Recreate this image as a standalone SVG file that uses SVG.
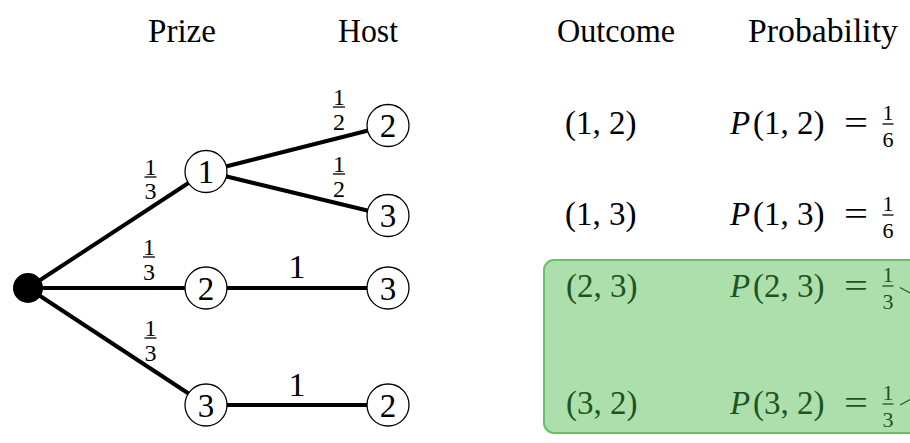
<svg xmlns="http://www.w3.org/2000/svg" width="910" height="443" viewBox="0 0 910 443">
<style>
.hdr{font-size:33px}
.nd{font-size:33px;text-anchor:middle}
.fr{font-size:24px;text-anchor:middle}
.lbl{font-size:34px;text-anchor:middle}
.m{font-size:33px}
.pf{font-size:22px;text-anchor:middle}
.g text{fill:#1e541e}
.node{fill:#fff;stroke:#000;stroke-width:1.3}
.edge{stroke:#000;stroke-width:4;fill:none}
.bar{stroke:#000;stroke-width:1.3}
.gbar{stroke:#1e541e;stroke-width:1.3}
.it{font-style:italic}
</style>
<g font-family="Liberation Serif, DejaVu Serif, Times New Roman, serif" fill="#000">
<g id="headers">
<text class="hdr" x="148" y="42" textLength="68" lengthAdjust="spacingAndGlyphs">Prize</text>
<text class="hdr" x="338" y="42" textLength="60" lengthAdjust="spacingAndGlyphs">Host</text>
<text class="hdr" x="557" y="42" textLength="118" lengthAdjust="spacingAndGlyphs">Outcome</text>
<text class="hdr" x="748" y="42" textLength="150" lengthAdjust="spacingAndGlyphs">Probability</text>
</g>
<g id="connectors">
<line class="edge" x1="28" y1="288" x2="206" y2="171.5"/>
<line class="edge" x1="28" y1="288" x2="206" y2="288"/>
<line class="edge" x1="28" y1="288" x2="206" y2="405"/>
<line class="edge" x1="206" y1="171.5" x2="388" y2="125.5"/>
<line class="edge" x1="206" y1="171.5" x2="388" y2="215.5"/>
<line class="edge" x1="206" y1="288" x2="388" y2="288"/>
<line class="edge" x1="206" y1="405" x2="388" y2="405"/>
</g>
<g id="edge-labels">
<text class="fr" x="339" y="105">1</text><line class="bar" x1="333" y1="107" x2="345" y2="107"/><text class="fr" x="339" y="129.5">2</text>
<text class="fr" x="339" y="172">1</text><line class="bar" x1="333" y1="174" x2="345" y2="174"/><text class="fr" x="339" y="196.5">2</text>
<text class="fr" x="150.5" y="174.5">1</text><line class="bar" x1="144.5" y1="177" x2="156.5" y2="177"/><text class="fr" x="150.5" y="199">3</text>
<text class="fr" x="149" y="254.5">1</text><line class="bar" x1="143" y1="257" x2="155" y2="257"/><text class="fr" x="149" y="279.5">3</text>
<text class="fr" x="150.5" y="335.5">1</text><line class="bar" x1="144.5" y1="338" x2="156.5" y2="338"/><text class="fr" x="150.5" y="361">3</text>
<text class="lbl" x="297" y="278">1</text>
<text class="lbl" x="297" y="396">1</text>
</g>
<g id="root"><circle cx="28" cy="288" r="15" fill="#000"/></g>
<g id="prize-1"><circle class="node" cx="206" cy="171.5" r="21"/><text class="nd" x="206" y="183">1</text></g>
<g id="prize-2"><circle class="node" cx="206" cy="288" r="21"/><text class="nd" x="206" y="299.5">2</text></g>
<g id="prize-3"><circle class="node" cx="206" cy="405" r="21"/><text class="nd" x="206" y="416.5">3</text></g>
<g id="host-1-2"><circle class="node" cx="388" cy="125.5" r="21"/><text class="nd" x="388" y="137">2</text></g>
<g id="host-1-3"><circle class="node" cx="388" cy="215.5" r="21"/><text class="nd" x="388" y="227">3</text></g>
<g id="host-2-3"><circle class="node" cx="388" cy="288" r="21"/><text class="nd" x="388" y="299.5">3</text></g>
<g id="host-3-2"><circle class="node" cx="388" cy="405" r="21"/><text class="nd" x="388" y="416.5">2</text></g>
<g id="highlight">
<rect x="544" y="260" width="400" height="173" rx="10" fill="#addfad" stroke="#6abf69" stroke-width="2"/>
<path d="M900,287.5 L925,301" stroke="#1e541e" stroke-width="1.2" fill="none"/>
<path d="M900,405 L925,391.5" stroke="#1e541e" stroke-width="1.2" fill="none"/>
</g>
<g id="outcome-1-2">
<text class="m" x="565" y="134">(1, 2)</text>
<text class="m" y="134"><tspan class="it" x="730">P</tspan><tspan x="753">(1, 2)</tspan></text>
<text class="m" x="844" y="134" textLength="24" lengthAdjust="spacingAndGlyphs">=</text>
<text class="pf" x="888" y="120">1</text><line class="bar" x1="882.5" y1="124" x2="893.5" y2="124"/><text class="pf" x="888" y="146.5">6</text>
</g>
<g id="outcome-1-3">
<text class="m" x="565" y="225">(1, 3)</text>
<text class="m" y="225"><tspan class="it" x="730">P</tspan><tspan x="753">(1, 3)</tspan></text>
<text class="m" x="844" y="225" textLength="24" lengthAdjust="spacingAndGlyphs">=</text>
<text class="pf" x="888" y="211">1</text><line class="bar" x1="882.5" y1="215" x2="893.5" y2="215"/><text class="pf" x="888" y="237.5">6</text>
</g>
<g id="outcome-2-3" class="g">
<text class="m" x="566" y="297">(2, 3)</text>
<text class="m" y="297"><tspan class="it" x="730">P</tspan><tspan x="753">(2, 3)</tspan></text>
<text class="m" x="844" y="297" textLength="24" lengthAdjust="spacingAndGlyphs">=</text>
<text class="pf" x="888" y="282">1</text><line class="gbar" x1="882.5" y1="286" x2="893.5" y2="286"/><text class="pf" x="888" y="308.5">3</text>
</g>
<g id="outcome-3-2" class="g">
<text class="m" x="566" y="414">(3, 2)</text>
<text class="m" y="414"><tspan class="it" x="730">P</tspan><tspan x="753">(3, 2)</tspan></text>
<text class="m" x="844" y="414" textLength="24" lengthAdjust="spacingAndGlyphs">=</text>
<text class="pf" x="888" y="400">1</text><line class="gbar" x1="882.5" y1="404" x2="893.5" y2="404"/><text class="pf" x="888" y="426.5">3</text>
</g>
</g>
</svg>
